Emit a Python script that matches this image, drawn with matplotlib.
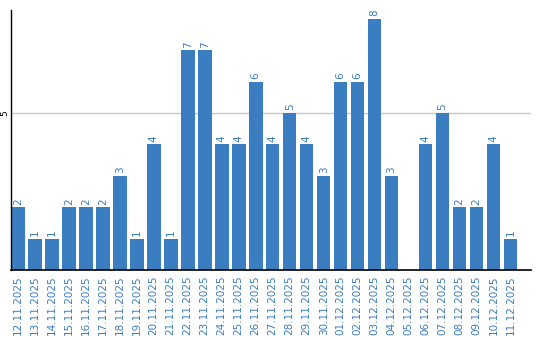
import matplotlib
matplotlib.use("Agg")
from matplotlib import pyplot as plt

dates = ['12.11.2025', '13.11.2025', '14.11.2025', '15.11.2025', '16.11.2025',
         '17.11.2025', '18.11.2025', '19.11.2025', '20.11.2025', '21.11.2025',
         '22.11.2025', '23.11.2025', '24.11.2025', '25.11.2025', '26.11.2025',
         '27.11.2025', '28.11.2025', '29.11.2025', '30.11.2025', '01.12.2025',
         '02.12.2025', '03.12.2025', '04.12.2025', '05.12.2025', '06.12.2025',
         '07.12.2025', '08.12.2025', '09.12.2025', '10.12.2025', '11.12.2025']
counts = [2, 1, 1, 2, 2, 2, 3, 1, 4, 1, 7, 7, 4, 4, 6,
          4, 5, 4, 3, 6, 6, 8, 3, 0, 4, 5, 2, 2, 4, 1]

blue = '#3b7dc1'
fig = plt.figure(figsize=(5.4, 3.4), dpi=100)
ax = fig.add_axes([11 / 540, 70 / 340, 520 / 540, 260 / 340])

xs = [i + 0.4 for i in range(len(dates))]
ax.bar(xs, counts, width=0.8, color=blue, zorder=2)

# labels above bars, skip empty days
for x, c in zip(xs, counts):
    if c > 0:
        ax.text(x, c + 0.08, str(c), rotation=90, ha='center', va='bottom',
                color=blue, fontsize=7.5)

ax.set_xlim(0, 30.6)
ax.set_ylim(0, 8.28)
ax.axhline(5, color='#c8c8c8', lw=1, zorder=1)

ax.set_xticks(xs)
ax.set_xticklabels(dates, rotation=90, color=blue, fontsize=7.5)
ax.set_yticks([5])
ax.set_yticklabels(['5'], rotation=90, fontsize=6.5, va='center')
ax.tick_params(axis='x', length=0, pad=4)
ax.tick_params(axis='y', length=0, pad=1)

for side in ['top', 'right']:
    ax.spines[side].set_visible(False)
ax.spines['left'].set_linewidth(1)
ax.spines['bottom'].set_linewidth(1.2)

fig.savefig('out.png', dpi=100)
